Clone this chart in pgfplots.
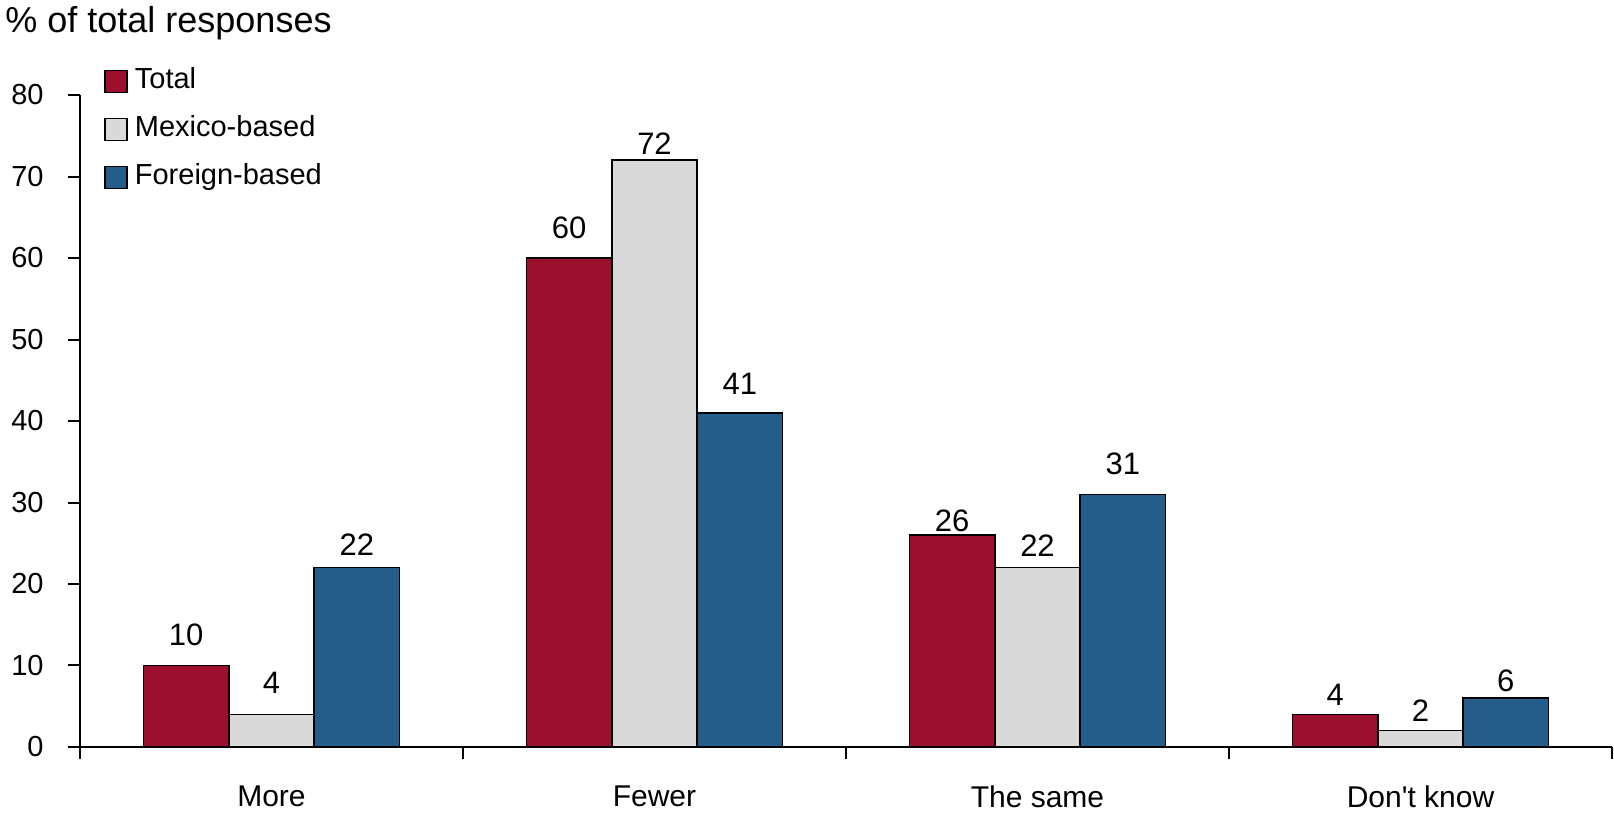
\documentclass[border=0pt]{standalone}
\usepackage{fontspec}
\setmainfont{Liberation Sans}
\usepackage{pgfplots}
\usepackage{pgfplotstable}
\pgfplotsset{compat=1.18}
\definecolor{cRed}{HTML}{9C0F2E}
\definecolor{cGray}{HTML}{D9D9D9}
\definecolor{cBlue}{HTML}{245C8A}
% off = distance (pt) from bar top to its value label
\pgfplotstableread{
x y off
0 10 9.5
1 60 9
2 26 1.5
3 4 4
}\tTotal
\pgfplotstableread{
x y off
0 4 10
1 72 2.5
2 22 5
3 2 4
}\tMexico
\pgfplotstableread{
x y off
0 22 5.5
1 41 8.7
2 31 9.5
3 6 3
}\tForeign
\begin{document}
\begin{tikzpicture}
\useasboundingbox (-40pt,-33pt) rectangle (767pt,373.5pt);
\begin{axis}[
  at={(0,0)}, anchor=south west,
  scale only axis, width=766pt, height=326pt,
  ymin=0, ymax=80, xmin=-0.5, xmax=3.5,
  ytick={0,10,...,80},
  xtick={-0.5,0.5,1.5,2.5,3.5}, xticklabels={},
  extra x ticks={0,1,2,3},
  extra x tick labels={More,Fewer,The same,Don\textquotesingle t know},
  extra x tick style={major tick length=0pt, xticklabel style={font=\fontsize{15}{17}\selectfont, inner sep=0pt, yshift=-19pt}},
  axis x line*=bottom, axis y line*=left,
  axis line style={-, line width=1pt, black},
  tick align=outside, major tick length=6pt,
  tick style={line width=1pt, black},
  yticklabel style={font=\fontsize{14.5}{16}\selectfont, inner sep=0pt, xshift=-12pt},
  /pgf/number format/assume math mode=true,
  ybar=0pt, bar width=0.2228,
  nodes near coords,
  every node near coord/.append style={font=\fontsize{15.5}{17}\selectfont, inner sep=0pt, yshift=\off pt, text=black},
  legend style={at={(axis description cs:0,1)}, anchor=north west, xshift=12pt, yshift=13.5pt,
    draw=none, fill=none, inner sep=0pt, font=\fontsize{14.5}{16}\selectfont, row sep=11pt,
    nodes={inner sep=0pt, text height=10pt, text depth=3pt},
    /tikz/every odd column/.append style={column sep=3.5pt}},
  legend cell align=left,
  legend image code/.code={\draw[#1, line width=0.75pt] (0pt,-5.5pt) rectangle (11pt,5.5pt);},
  clip=false,
]
\addplot[fill=cRed, draw=black, line width=0.75pt, visualization depends on={\thisrow{off}\as\off}] table[x=x,y=y] {\tTotal};
\addplot[fill=cGray, draw=black, line width=0.75pt, visualization depends on={\thisrow{off}\as\off}] table[x=x,y=y] {\tMexico};
\addplot[fill=cBlue, draw=black, line width=0.75pt, visualization depends on={\thisrow{off}\as\off}] table[x=x,y=y] {\tForeign};
\legend{Total,Mexico-based,Foreign-based}
\end{axis}
\node[anchor=base west, inner sep=0pt, font=\fontsize{18}{21}\selectfont] at (-37.5pt,357pt) {\% of total responses};
\end{tikzpicture}
\end{document}
